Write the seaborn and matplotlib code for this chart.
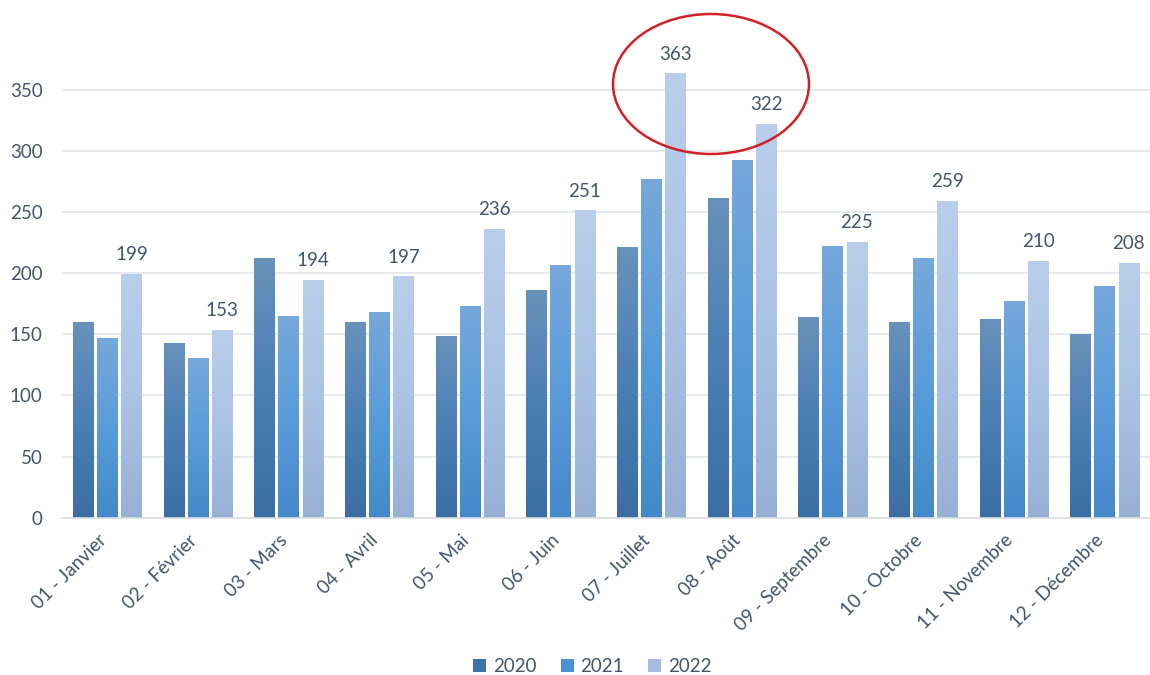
import matplotlib
matplotlib.use("Agg")
import matplotlib.pyplot as plt
import matplotlib.transforms as mtransforms
import numpy as np
import pandas as pd
import seaborn as sns
from matplotlib.colors import LinearSegmentedColormap
from matplotlib.patches import Ellipse, Patch

# data
months = ['01 - Janvier', '02 - Février', '03 - Mars', '04 - Avril', '05 - Mai', '06 - Juin',
          '07 - Juillet', '08 - Août', '09 - Septembre', '10 - Octobre', '11 - Novembre', '12 - Décembre']
years = ['2020', '2021', '2022']
values_2020 = [160, 143, 212, 160, 148, 186, 221, 261, 164, 160, 162, 150]
values_2021 = [147, 130, 165, 168, 173, 206, 277, 292, 222, 212, 177, 189]
values_2022 = [199, 153, 194, 197, 236, 251, 363, 322, 225, 259, 210, 208]

# bottom -> middle -> top gradient stops per series
gradients = {
    '2020': ['#3A6EA4', '#4A80B6', '#6891BB'],
    '2021': ['#4488C9', '#5A9CDA', '#76A8DB'],
    '2022': ['#97B0D5', '#ABC3E5', '#B8CEEA'],
}
legend_colors = {'2020': '#3E73A9', '2021': '#4A90D2', '2022': '#A5BDE0'}
text_color = '#44546A'

df = pd.DataFrame({
    'month': months * 3,
    'year': np.repeat(years, len(months)),
    'value': values_2020 + values_2021 + values_2022,
})

sns.set_theme(style='white')
plt.rcParams['font.family'] = ['Lato', 'DejaVu Sans']

fig = plt.figure(figsize=(11.5, 6.75), dpi=100)
ax = fig.add_axes([0.054, 0.233, 0.946, 0.725])

sns.barplot(data=df, x='month', y='value', hue='year', hue_order=years,
            width=0.8, gap=0.15, ax=ax, legend=False, errorbar=None)

# gradient fill for each bar
for year, container in zip(years, ax.containers):
    cmap = LinearSegmentedColormap.from_list('g' + year, gradients[year])
    grad = np.linspace(0, 1, 256).reshape(-1, 1)
    for bar in container:
        x, w, h = bar.get_x(), bar.get_width(), bar.get_height()
        bar.set_facecolor('none')
        bar.set_edgecolor('none')
        ax.imshow(grad, cmap=cmap, extent=[x, x + w, 0, h], origin='lower',
                  aspect='auto', zorder=2)

ax.set_ylim(0, 400)
ax.set_xlim(-0.5, len(months) - 0.5)

# labels only on 2022
ax.bar_label(ax.containers[2], labels=[str(v) for v in values_2022], padding=8,
             fontsize=13.5, color=text_color)

ax.set_yticks(range(0, 351, 50))
ax.yaxis.grid(True, color='#E3E6EA', linewidth=1.2)
ax.set_axisbelow(True)
for s in ['top', 'right', 'left']:
    ax.spines[s].set_visible(False)
ax.spines['bottom'].set_color('#D9DDE3')
ax.spines['bottom'].set_linewidth(1.2)
ax.tick_params(axis='both', length=0, labelsize=13.5, labelcolor=text_color)
ax.tick_params(axis='y', pad=14)
ax.set_xlabel('')
ax.set_ylabel('')
shift = mtransforms.ScaledTranslation(-10 / 100, -9 / 100, fig.dpi_scale_trans)
for lbl in ax.get_xticklabels():
    lbl.set_rotation(45)
    lbl.set_ha('right')
    lbl.set_rotation_mode('anchor')
    lbl.set_transform(lbl.get_transform() + shift)

handles = [Patch(facecolor=legend_colors[y], edgecolor='none', label=y) for y in years]
fig.legend(handles=handles, loc='center', bbox_to_anchor=(0.515, 0.012), ncol=3,
           frameon=False, fontsize=13.5, labelcolor=text_color, handlelength=0.7,
           handleheight=0.7, handletextpad=0.35, columnspacing=1.3)

# red highlight ellipse around July / August peaks
fig.patches.append(Ellipse((711 / 1150, 1 - 84 / 675), 196 / 1150, 140 / 675,
                           transform=fig.transFigure, fill=False,
                           edgecolor='#D0202A', linewidth=1.8))

fig.savefig('out.png', dpi=100)
